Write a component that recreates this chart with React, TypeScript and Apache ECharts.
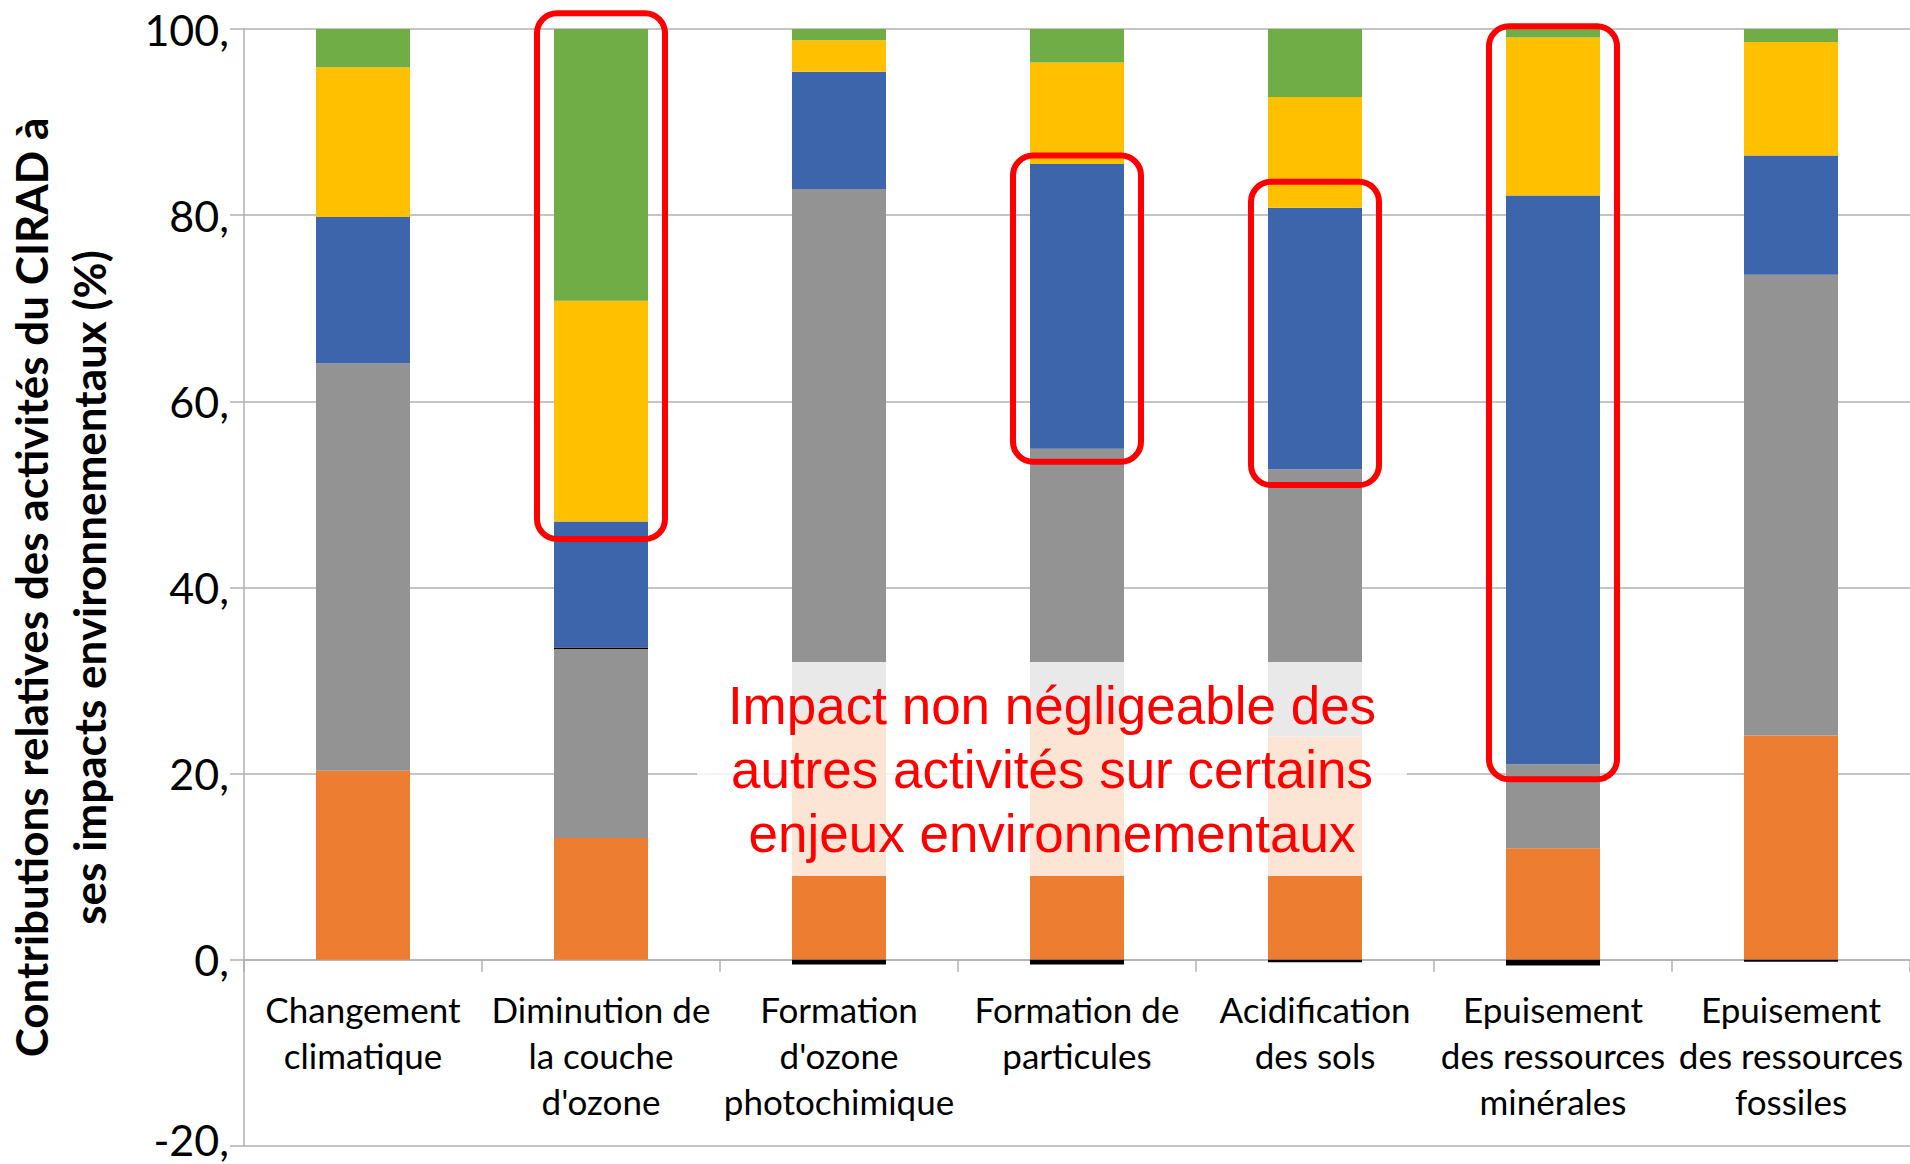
import React, { useEffect, useRef } from "react";
import * as echarts from "echarts";

const categories = [
  "Changement\nclimatique",
  "Diminution de\nla couche\nd'ozone",
  "Formation\nd'ozone\nphotochimique",
  "Formation de\nparticules",
  "Acidification\ndes sols",
  "Epuisement\ndes ressources\nminérales",
  "Epuisement\ndes ressources\nfossiles",
];

const seriesNames = ["Série 1", "Série 2", "Série 3", "Série 4", "Série 5", "Série 6"];
const orangeValues = [20.3, 13.1, 26.4, 26.4, 24.0, 12.0, 24.1];
const grayValues = [43.8, 20.3, 56.4, 28.5, 28.7, 9.0, 49.5];
const blackValues = [0, 0.15, -0.5, -0.5, -0.25, -0.6, -0.2];
const blueValues = [15.7, 13.55, 12.6, 30.6, 28.1, 61.1, 12.8];
const yellowValues = [16.1, 23.7, 3.4, 10.9, 11.9, 17.0, 12.2];
const greenValues = [4.1, 29.2, 1.2, 3.6, 7.3, 0.9, 1.4];

const yMin = -20;
const yMax = 100;
const yStep = 20;

// highlighted ranges (category index, top value, bottom value)
const highlightCats = [1, 3, 4, 5];
const highlightTop = [101.7, 86.4, 83.6, 100.3];
const highlightBottom = [45.2, 53.5, 51.0, 19.4];

const noteText = "Impact non négligeable des\nautres activités sur certains\nenjeux environnementaux";
const noteRange = [32, 9];

const colors = ["#ED7D31", "#939393", "#000000", "#3D65AB", "#FFC000", "#70AD47"];
const seriesData = [orangeValues, grayValues, blackValues, blueValues, yellowValues, greenValues];

const W = 1910;
const H = 1164;
const GRID_TOP = 29;
const GRID_BOTTOM = 18;

export default function App() {
  const ref = useRef<HTMLDivElement>(null);
  useEffect(() => {
    const chart = echarts.init(ref.current!, null, { renderer: "svg" });
    const gridColor = "#b0b0b0";
    const gridH = H - GRID_TOP - GRID_BOTTOM;
    const zeroOffset = -(gridH * (0 - yMin)) / (yMax - yMin);
    chart.setOption({
      animation: false,
      grid: {
        left: 244,
        right: 0,
        top: GRID_TOP,
        bottom: GRID_BOTTOM,
        containLabel: false,
        outerBoundsMode: "none",
      },
      xAxis: {
        type: "category",
        data: categories,
        offset: zeroOffset,
        axisLine: { onZero: false, lineStyle: { color: gridColor, width: 1.5 } },
        axisTick: { show: true, length: 12, lineStyle: { color: gridColor, width: 1.5 } },
        axisLabel: {
          interval: 0,
          margin: 26,
          color: "#000",
          fontFamily: "Lato",
          fontSize: 35,
          lineHeight: 46,
        },
      },
      yAxis: {
        type: "value",
        min: yMin,
        max: yMax,
        interval: yStep,
        name: "Contributions relatives des activités du CIRAD à\nses impacts environnementaux (%)",
        nameLocation: "middle",
        nameGap: 126,
        nameRotate: 90,
        nameTextStyle: {
          fontFamily: "Lato",
          fontWeight: "bold",
          fontSize: 44,
          lineHeight: 58,
          color: "#000",
        },
        axisLine: { show: true, lineStyle: { color: gridColor, width: 1.5 } },
        axisTick: { show: true, length: 14, lineStyle: { color: gridColor, width: 1.5 } },
        axisLabel: {
          formatter: (v: number) => (v === yMin ? `{low|${v},}` : `${v},`),
          margin: 15,
          color: "#000",
          fontFamily: "Lato",
          fontSize: 43,
          lineHeight: 30,
          rich: {
            low: {
              color: "#000",
              fontFamily: "Lato",
              fontSize: 43,
              lineHeight: 30,
              padding: [0, 0, 14, 0],
            },
          },
        },
        splitLine: { show: true, lineStyle: { color: gridColor, width: 1.5 } },
      },
      series: seriesData.map((d, i) => ({
        name: seriesNames[i],
        type: "bar",
        stack: "total",
        barWidth: "39.5%",
        data: d,
        itemStyle: { color: colors[i] },
      })),
    });

    const px = (cat: number, val: number) =>
      chart.convertToPixel({ xAxisIndex: 0, yAxisIndex: 0 }, [cat, val]) as number[];
    const band = px(1, 0)[0] - px(0, 0)[0];
    const halfW = (band * 0.395) / 2 + 17;
    const graphics: any[] = [];
    highlightCats.forEach((c, i) => {
      const cx = px(c, 0)[0];
      const yTop = px(c, highlightTop[i])[1];
      const yBot = px(c, highlightBottom[i])[1];
      graphics.push({
        type: "rect",
        z: 100,
        shape: { x: cx - halfW, y: yTop, width: halfW * 2, height: yBot - yTop, r: 20 },
        style: { fill: "none", stroke: "#ff0000", lineWidth: 6 },
      });
    });
    const boxTop = px(0, noteRange[0])[1];
    const boxBot = px(0, noteRange[1])[1];
    const boxLeft = 697;
    const boxRight = 1407;
    graphics.push({
      type: "rect",
      z: 90,
      shape: { x: boxLeft, y: boxTop, width: boxRight - boxLeft, height: boxBot - boxTop },
      style: { fill: "#ffffff", opacity: 0.8 },
    });
    graphics.push({
      type: "text",
      z: 95,
      x: (boxLeft + boxRight) / 2,
      y: (boxTop + boxBot) / 2,
      style: {
        text: noteText,
        fill: "#ff0000",
        fontFamily: "Liberation Sans",
        fontSize: 53,
        lineHeight: 64,
        align: "center",
        verticalAlign: "middle",
      },
    });
    chart.setOption({ graphic: graphics });
    return () => chart.dispose();
  }, []);
  return (
    <div
      ref={ref}
      style={{ position: "fixed", left: 0, top: 0, width: W, height: H, background: "#fff" }}
    />
  );
}
